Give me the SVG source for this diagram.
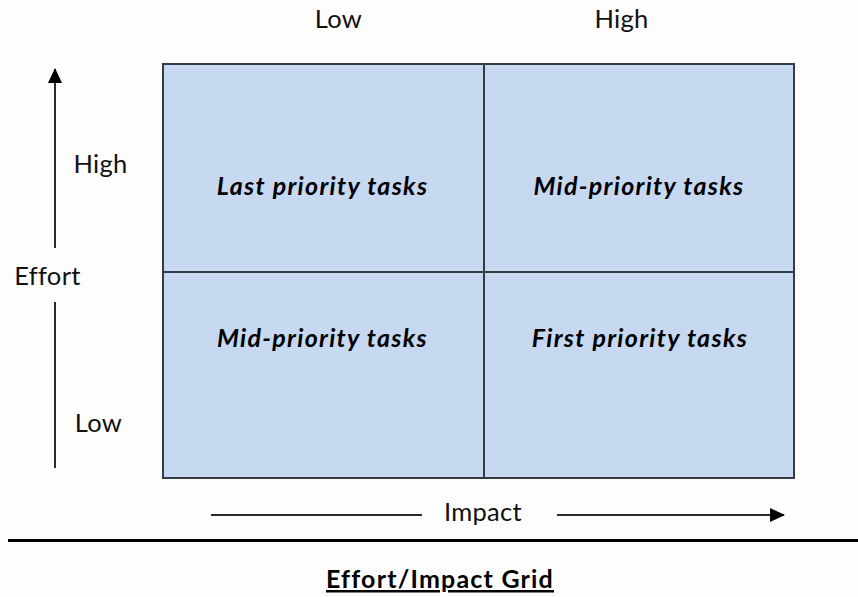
<svg xmlns="http://www.w3.org/2000/svg" width="858" height="597" viewBox="0 0 858 597">
  <defs>
    <style>
      .lbl { font-family: Lato, "Open Sans", "Liberation Sans", sans-serif; font-size: 25.5px; fill: #111; text-anchor: middle; letter-spacing: 0.3px; }
      .task { font-family: Lato, "Open Sans", "Liberation Sans", sans-serif; font-size: 25px; font-weight: bold; font-style: italic; fill: #000; text-anchor: middle; letter-spacing: 1.3px; }
      .title { font-family: Lato, "Open Sans", "Liberation Sans", sans-serif; font-size: 25px; font-weight: bold; fill: #000; text-anchor: middle; text-decoration: underline; letter-spacing: 1.2px; }
      .cell { fill: #c6d9f0; stroke: #363a42; stroke-width: 2; }
      .axis { stroke: #2b2b2b; stroke-width: 2; fill: none; }
    </style>
    <marker id="head" viewBox="0 0 15 14" refX="14" refY="7" markerWidth="15" markerHeight="14" markerUnits="userSpaceOnUse" orient="auto">
      <path d="M0,0 L15,7 L0,14 Z" fill="#000"/>
    </marker>
  </defs>

  <rect width="858" height="597" fill="#fdfdfd"/>

  <!-- column headings -->
  <text class="lbl" x="338.5" y="28">Low</text>
  <text class="lbl" x="621.5" y="28">High</text>

  <!-- row headings and axis name -->
  <text class="lbl" x="100.5" y="173">High</text>
  <text class="lbl" x="47.5" y="285">Effort</text>
  <text class="lbl" x="98.5" y="432">Low</text>
  <text class="lbl" x="483" y="521">Impact</text>

  <!-- quadrants -->
  <g id="q-last">
    <rect class="cell" x="163" y="64" width="321" height="208"/>
    <text class="task" x="322.5" y="194.5">Last priority tasks</text>
  </g>
  <g id="q-mid-high">
    <rect class="cell" x="484" y="64" width="310" height="208"/>
    <text class="task" x="639" y="194.5">Mid-priority tasks</text>
  </g>
  <g id="q-mid-low">
    <rect class="cell" x="163" y="272" width="321" height="206"/>
    <text class="task" x="322.5" y="347">Mid-priority tasks</text>
  </g>
  <g id="q-first">
    <rect class="cell" x="484" y="272" width="310" height="206"/>
    <text class="task" x="640" y="347">First priority tasks</text>
  </g>

  <!-- axis arrows -->
  <g id="connectors">
    <line class="axis" x1="55" y1="248" x2="55" y2="69" marker-end="url(#head)"/>
    <line class="axis" x1="55" y1="302" x2="55" y2="468"/>
    <line class="axis" x1="211" y1="515" x2="422" y2="515"/>
    <line class="axis" x1="557" y1="515" x2="784" y2="515" marker-end="url(#head)"/>
  </g>

  <!-- separator rule and caption -->
  <line x1="8" y1="540.5" x2="858" y2="540.5" stroke="#000" stroke-width="3"/>
  <text class="title" x="440" y="588">Effort/Impact Grid</text>
</svg>
